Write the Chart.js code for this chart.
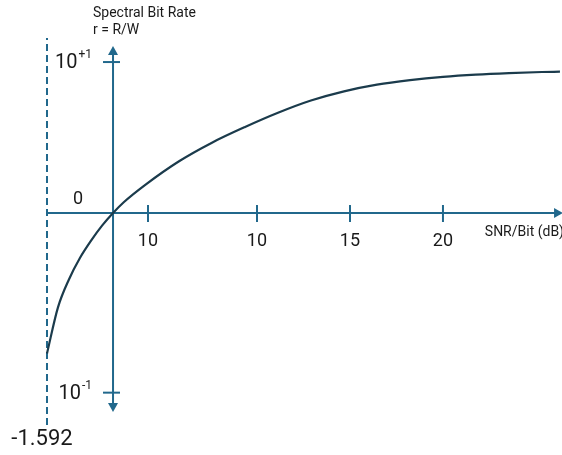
<!doctype html>
<html>
  <head>
    <title>Spectral Bit Rate vs SNR/Bit</title>
    <script src="https://cdn.jsdelivr.net/npm/chart.js@4.4.1/dist/chart.umd.min.js"></script>
    <style>
      html, body { margin: 0; padding: 0; background: #fff; }
      #box { width: 562px; height: 455px; }
    </style>
  </head>
  <body>
    <div id="box"><canvas id="joonis"></canvas></div>
    <script>
      // curve: x in dB, y in log10(r)
      const snrDb = [-1.29, -0.70, -0.11, 0.48, 1.08, 1.67, 2.26, 2.85, 4.03, 5.81, 7.58, 9.36, 11.13, 12.90, 14.68, 16.45, 18.23, 20.00, 21.77, 23.55, 25.32, 26.29];
      const rateLog = [-0.930, -0.625, -0.440, -0.298, -0.183, -0.084, 0, 0.073, 0.190, 0.343, 0.466, 0.570, 0.664, 0.745, 0.806, 0.850, 0.880, 0.902, 0.917, 0.927, 0.934, 0.936];

      const xTickVals = [4.14, 10, 15, 20];
      const xTickLabels = ['10', '10', '15', '20'];
      const yTickVals = [1, -1.19];
      const yTickLabels = [['10', '+1'], ['10', '-1']];

      const shannonLimit = -1.29;
      const shannonLabel = '-1.592';
      const yAxisAt = 2.26;
      const xAxisEnd = 26.35;
      const yAxisTop = 1.093, yAxisBottom = -1.305;
      const dashTop = 1.159, dashBottom = -1.404;

      const axisColor = '#21688c';
      const curveColor = '#1b3b4c';
      const textColor = '#1a1a1a';
      const font = 'Roboto, "Liberation Sans", sans-serif';

      function arrow(ctx, x, y, dir) {
        ctx.save();
        ctx.translate(x, y);
        ctx.rotate(dir);
        ctx.beginPath();
        ctx.moveTo(0, 0);
        ctx.lineTo(-9, -5);
        ctx.lineTo(-9, 5);
        ctx.closePath();
        ctx.fillStyle = axisColor;
        ctx.fill();
        ctx.restore();
      }

      const kaunistus = {
        id: 'kaunistus',
        afterDatasetsDraw(chart) {
          const ctx = chart.ctx;
          const sx = chart.scales.x, sy = chart.scales.y;
          const x0 = sx.getPixelForValue(yAxisAt);
          const y0 = sy.getPixelForValue(0);
          ctx.save();
          ctx.strokeStyle = axisColor;
          ctx.lineWidth = 2;
          // x ticks
          xTickVals.forEach(v => {
            const px = sx.getPixelForValue(v);
            ctx.beginPath(); ctx.moveTo(px, y0 - 8); ctx.lineTo(px, y0 + 9); ctx.stroke();
          });
          // y ticks
          yTickVals.forEach(v => {
            const py = sy.getPixelForValue(v);
            ctx.beginPath(); ctx.moveTo(x0 - 10, py); ctx.lineTo(x0 + 7, py); ctx.stroke();
          });
          // arrows
          arrow(ctx, sx.getPixelForValue(xAxisEnd) + 2, y0, 0);
          arrow(ctx, x0, sy.getPixelForValue(yAxisTop) - 2, -Math.PI / 2);
          arrow(ctx, x0, sy.getPixelForValue(yAxisBottom) + 2, Math.PI / 2);

          ctx.fillStyle = textColor;
          ctx.textBaseline = 'middle';
          // x tick labels
          ctx.font = '18px ' + font;
          ctx.textAlign = 'center';
          xTickVals.forEach((v, i) => {
            ctx.fillText(xTickLabels[i], sx.getPixelForValue(v), y0 + 28);
          });
          // zero label
          ctx.fillText('0', x0 - 35, y0 - 14);
          // y tick labels with superscripts
          yTickVals.forEach((v, i) => {
            const py = sy.getPixelForValue(v);
            const sup = yTickLabels[i][1];
            ctx.font = '12px ' + font;
            const supW = ctx.measureText(sup).width;
            ctx.textAlign = 'left';
            ctx.fillText(sup, x0 - 21 - supW, py - 7);
            ctx.font = '20px ' + font;
            ctx.textAlign = 'right';
            ctx.fillText(yTickLabels[i][0], x0 - 22 - supW, py + 1);
          });
          // limit label
          ctx.font = '22px ' + font;
          ctx.textAlign = 'center';
          ctx.fillText(shannonLabel, sx.getPixelForValue(shannonLimit) - 5, sy.getPixelForValue(dashBottom) + 15);
          // axis titles
          ctx.font = '14px ' + font;
          ctx.textAlign = 'left';
          ctx.fillText('Spectral Bit Rate', x0 - 20, 13);
          ctx.fillText('r = R/W', x0 - 20, 30);
          ctx.fillText('SNR/Bit (dB)', sx.getPixelForValue(22.25), y0 + 19);
          ctx.restore();
        }
      };

      new Chart(document.getElementById('joonis'), {
        type: 'scatter',
        data: {
          datasets: [
            {
              label: 'r',
              data: snrDb.map((v, i) => ({ x: v, y: rateLog[i] })),
              showLine: true,
              borderColor: curveColor,
              borderWidth: 2.2,
              pointRadius: 0,
              cubicInterpolationMode: 'monotone'
            },
            {
              label: 'x telg',
              data: [{ x: shannonLimit, y: 0 }, { x: xAxisEnd, y: 0 }],
              showLine: true, borderColor: axisColor, borderWidth: 2, pointRadius: 0
            },
            {
              label: 'y telg',
              data: [{ x: yAxisAt, y: yAxisBottom }, { x: yAxisAt, y: yAxisTop }],
              showLine: true, borderColor: axisColor, borderWidth: 2, pointRadius: 0
            },
            {
              label: 'piir',
              data: [{ x: shannonLimit, y: dashBottom }, { x: shannonLimit, y: dashTop }],
              showLine: true, borderColor: axisColor, borderWidth: 2, borderDash: [7, 4], pointRadius: 0
            }
          ]
        },
        options: {
          responsive: true,
          maintainAspectRatio: false,
          animation: false,
          layout: { padding: 0 },
          plugins: { legend: { display: false }, tooltip: { enabled: false } },
          scales: {
            x: { type: 'linear', display: false, min: -3.817, max: 26.40 },
            y: { type: 'linear', display: false, min: -1.603, max: 1.411 }
          }
        },
        plugins: [kaunistus]
      });
    </script>
  </body>
</html>
